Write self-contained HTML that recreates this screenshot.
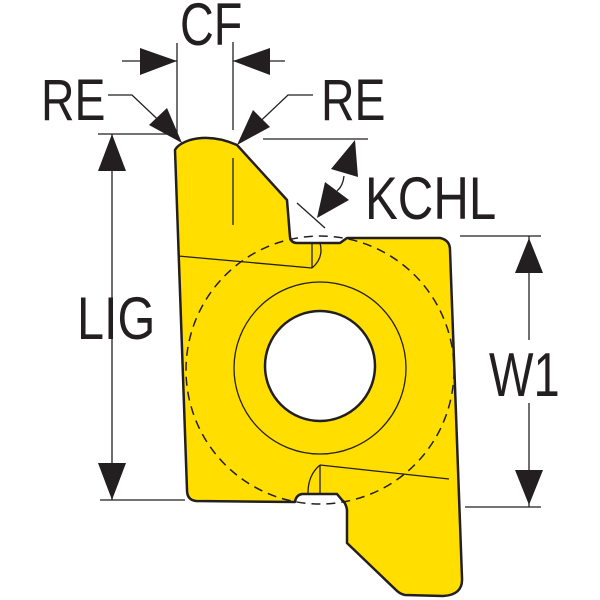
<!DOCTYPE html>
<html><head><meta charset="utf-8"><style>
html,body{margin:0;padding:0;background:#fff;width:600px;height:600px;overflow:hidden}
svg{display:block}
text{font-family:"Liberation Sans Narrow","Liberation Sans",sans-serif;fill:#231f20}
</style></head><body>
<svg width="600" height="600" viewBox="0 0 600 600" xmlns="http://www.w3.org/2000/svg">
<path d="M175,150 Q178,144 190,140 Q212,134 237,145 L287,200 L290,237 Q291,243 297,243 L340,243 L347,238 L440,238 Q450,240 450,250 L462,578 Q463,595 443,596 L405,595 Q400,594 396,590 L347,543 L347,510 Q346,503 342,500 L337,494 L302,494 Q296,495 295,502 L196,501 Q187,500 187,490 Z" fill="#FFDE00" stroke="#231f20" stroke-width="2.5" stroke-linejoin="round"/>
<circle cx="320" cy="370" r="134" fill="none" stroke="#231f20" stroke-width="1.5" stroke-dasharray="9,6"/>
<circle cx="320" cy="368" r="86" fill="none" stroke="#231f20" stroke-width="1.3"/>
<circle cx="320" cy="366" r="55" fill="#fff" stroke="#231f20" stroke-width="2.5"/>
<g stroke="#231f20" stroke-width="1.3" fill="none">
<line x1="233" y1="158" x2="233" y2="225"/>
<line x1="178" y1="256" x2="312" y2="268"/>
<line x1="312" y1="243" x2="312" y2="268"/>
<path d="M320,243 Q324,258 312,268"/>
<line x1="320" y1="465" x2="449" y2="479"/>
<line x1="320" y1="465" x2="320" y2="493"/>
<path d="M308,493 Q308,475 320,465"/>
<line x1="177" y1="43" x2="177" y2="138"/>
<line x1="233" y1="42" x2="233" y2="130"/>
<line x1="122" y1="61" x2="177" y2="61"/>
<line x1="233" y1="61" x2="285" y2="61"/>
<polyline points="108,95 132,95 170,131"/>
<polyline points="313,95 288,95 250,131"/>
<line x1="98" y1="134" x2="172" y2="134"/>
<line x1="100" y1="500" x2="185" y2="500"/>
<line x1="112" y1="134" x2="112" y2="500"/>
<line x1="460" y1="236" x2="541" y2="236"/>
<line x1="465" y1="507" x2="541" y2="507"/>
<line x1="529" y1="236" x2="529" y2="340"/>
<line x1="529" y1="403" x2="529" y2="507"/>
<line x1="263" y1="139" x2="368" y2="139"/>
<line x1="297" y1="203" x2="325" y2="228"/>
<path d="M344,176 Q343,186 337,191"/>
</g>
<g fill="#231f20">
<polygon points="177,61 140,48 140,75"/>
<polygon points="233,61 270,48 270,75"/>
<polygon points="182,143 149,125 167,108"/>
<polygon points="237,145 253,110 270,127"/>
<polygon points="112,134 98,171 126,171"/>
<polygon points="112,500 98,463 126,463"/>
<polygon points="529,238 515,273 543,273"/>
<polygon points="529,505 515,470 543,470"/>
<polygon points="355,140 331,169 358,177"/>
<polygon points="317,218 325,182 349,200"/>
</g>
<text x="0" y="0" font-size="60" transform="translate(180,45) scale(0.78,1)">CF</text>
<text x="0" y="0" font-size="58" transform="translate(41,120) scale(0.80,1)">RE</text>
<text x="0" y="0" font-size="58" transform="translate(321,120) scale(0.80,1)">RE</text>
<text x="0" y="0" font-size="60" transform="translate(365,219) scale(0.82,1)">KCHL</text>
<text x="0" y="0" font-size="60" transform="translate(77,339) scale(0.81,1)">LIG</text>
<text x="0" y="0" font-size="62" transform="translate(489,396) scale(0.76,1)">W1</text>
</svg>
</body></html>
